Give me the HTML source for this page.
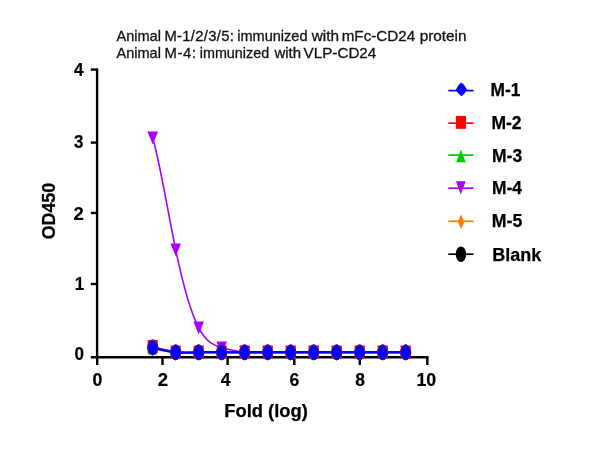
<!DOCTYPE html>
<html><head><meta charset="utf-8"><title>ELISA</title>
<style>
html,body{margin:0;padding:0;background:#fff;}
body{width:600px;height:450px;overflow:hidden;}
svg{display:block;filter:blur(0.5px);}
text{font-family:"Liberation Sans",Arial,sans-serif;fill:#000;}
.b{font-weight:bold;font-size:17.6px;stroke:#000;stroke-width:0.25px;}
.k{font-weight:bold;font-size:17.5px;stroke:#000;stroke-width:0.2px;}
.ln{filter:blur(0.45px);}
.t{font-size:14.8px;fill:#111;stroke:#111;stroke-width:0.3px;}
</style></head><body>
<svg width="600" height="450" viewBox="0 0 600 450">
<rect width="600" height="450" fill="#fff"/>

<text class="t" y="40.7"><tspan x="116.45" textLength="44.51" lengthAdjust="spacingAndGlyphs">Animal</tspan> <tspan x="164.40" textLength="69.47" lengthAdjust="spacing">M-1/2/3/5:</tspan> <tspan x="237.26" textLength="70.22" lengthAdjust="spacingAndGlyphs">immunized</tspan> <tspan x="311.70" textLength="27.36" lengthAdjust="spacingAndGlyphs">with</tspan> <tspan x="341.67" textLength="73.62" lengthAdjust="spacingAndGlyphs">mFc-CD24</tspan> <tspan x="419.67" textLength="46.81" lengthAdjust="spacingAndGlyphs">protein</tspan></text>
<text class="t" y="57.7"><tspan x="116.45" textLength="44.51" lengthAdjust="spacingAndGlyphs">Animal</tspan> <tspan x="164.40" textLength="31.76" lengthAdjust="spacing">M-4:</tspan> <tspan x="199.77" textLength="69.40" lengthAdjust="spacingAndGlyphs">immunized</tspan> <tspan x="274.40" textLength="26.64" lengthAdjust="spacingAndGlyphs">with</tspan> <tspan x="303.64" textLength="72.65" lengthAdjust="spacingAndGlyphs">VLP-CD24</tspan></text>
<g stroke="#000" stroke-width="2.4" fill="none">
<path d="M97.1 68.4V358.4"/>
<path d="M90.8 357.2H428.5"/>
<path d="M90.8 69.6H97.2"/>
<path d="M90.8 142.6H97.2"/>
<path d="M90.8 213.0H97.2"/>
<path d="M90.8 284.0H97.2"/>
<path d="M97.2 357.2V365.0"/>
<path d="M162.5 357.2V365.0"/>
<path d="M227.6 357.2V365.0"/>
<path d="M294.3 357.2V365.0"/>
<path d="M359.8 357.2V365.0"/>
<path d="M427.3 357.2V365.0"/>
</g>
<g><path d="M152.7 347.2C160.4 349.4 168.0 351.6 175.7 352.4C183.4 353.3 191.0 352.7 198.7 352.4C206.4 352.2 214.0 352.4 221.7 352.4C229.4 352.5 237.0 352.5 244.7 352.4C252.4 352.4 260.0 352.4 267.7 352.4C275.4 352.4 283.0 352.4 290.7 352.4C298.4 352.4 306.0 352.4 313.7 352.4C321.4 352.4 329.0 352.4 336.7 352.4C344.4 352.4 352.0 352.4 359.7 352.4C367.4 352.4 375.0 352.4 382.7 352.4C390.4 352.4 398.0 352.4 405.7 352.4" fill="none" stroke="#000000" stroke-width="1.6" class="ln"/>
<ellipse cx="152.7" cy="347.2" rx="5.3" ry="7.8" fill="#000000"/>
<ellipse cx="175.7" cy="352.4" rx="5.3" ry="7.8" fill="#000000"/>
<ellipse cx="198.7" cy="352.4" rx="5.3" ry="7.8" fill="#000000"/>
<ellipse cx="221.7" cy="352.4" rx="5.3" ry="7.8" fill="#000000"/>
<ellipse cx="244.7" cy="352.4" rx="5.3" ry="7.8" fill="#000000"/>
<ellipse cx="267.7" cy="352.4" rx="5.3" ry="7.8" fill="#000000"/>
<ellipse cx="290.7" cy="352.4" rx="5.3" ry="7.8" fill="#000000"/>
<ellipse cx="313.7" cy="352.4" rx="5.3" ry="7.8" fill="#000000"/>
<ellipse cx="336.7" cy="352.4" rx="5.3" ry="7.8" fill="#000000"/>
<ellipse cx="359.7" cy="352.4" rx="5.3" ry="7.8" fill="#000000"/>
<ellipse cx="382.7" cy="352.4" rx="5.3" ry="7.8" fill="#000000"/>
<ellipse cx="405.7" cy="352.4" rx="5.3" ry="7.8" fill="#000000"/>
</g>
<g><path d="M152.7 346.5C160.4 348.8 168.0 351.0 175.7 351.9C183.4 352.7 191.0 352.1 198.7 351.9C206.4 351.6 214.0 351.8 221.7 351.9C229.4 351.9 237.0 351.9 244.7 351.9C252.4 351.9 260.0 351.9 267.7 351.9C275.4 351.9 283.0 351.9 290.7 351.9C298.4 351.9 306.0 351.9 313.7 351.9C321.4 351.9 329.0 351.9 336.7 351.9C344.4 351.9 352.0 351.9 359.7 351.9C367.4 351.9 375.0 351.9 382.7 351.9C390.4 351.9 398.0 351.9 405.7 351.9" fill="none" stroke="#ff8000" stroke-width="1.6" class="ln"/>
<path d="M149.2 346.5L152.7 339.4L156.2 346.5L152.7 353.6Z" fill="#ff8000"/>
<path d="M172.2 351.9L175.7 344.8L179.2 351.9L175.7 359.0Z" fill="#ff8000"/>
<path d="M195.2 351.9L198.7 344.8L202.2 351.9L198.7 359.0Z" fill="#ff8000"/>
<path d="M218.2 351.9L221.7 344.8L225.2 351.9L221.7 359.0Z" fill="#ff8000"/>
<path d="M241.2 351.9L244.7 344.8L248.2 351.9L244.7 359.0Z" fill="#ff8000"/>
<path d="M264.2 351.9L267.7 344.8L271.2 351.9L267.7 359.0Z" fill="#ff8000"/>
<path d="M287.2 351.9L290.7 344.8L294.2 351.9L290.7 359.0Z" fill="#ff8000"/>
<path d="M310.2 351.9L313.7 344.8L317.2 351.9L313.7 359.0Z" fill="#ff8000"/>
<path d="M333.2 351.9L336.7 344.8L340.2 351.9L336.7 359.0Z" fill="#ff8000"/>
<path d="M356.2 351.9L359.7 344.8L363.2 351.9L359.7 359.0Z" fill="#ff8000"/>
<path d="M379.2 351.9L382.7 344.8L386.2 351.9L382.7 359.0Z" fill="#ff8000"/>
<path d="M402.2 351.9L405.7 344.8L409.2 351.9L405.7 359.0Z" fill="#ff8000"/>
</g>
<g><path d="M152.7 137.8C160.4 164.9 168.0 212.6 175.7 249.7C183.4 286.7 191.0 313.2 198.7 327.8C206.4 342.4 214.0 345.3 221.7 347.6C229.4 349.8 237.0 351.5 244.7 352.2C252.4 352.8 260.0 352.4 267.7 352.3C275.4 352.2 283.0 352.3 290.7 352.3C298.4 352.3 306.0 352.3 313.7 352.3C321.4 352.3 329.0 352.3 336.7 352.3C344.4 352.3 352.0 352.3 359.7 352.3C367.4 352.3 375.0 352.3 382.7 352.3C390.4 352.3 398.0 352.3 405.7 352.3" fill="none" stroke="#aa00ff" stroke-width="1.6" class="ln"/>
<path d="M147.4 131.6L158.0 131.6L152.7 144.4Z" fill="#aa00ff"/>
<path d="M170.4 243.5L181.0 243.5L175.7 256.3Z" fill="#aa00ff"/>
<path d="M193.4 321.6L204.0 321.6L198.7 334.4Z" fill="#aa00ff"/>
<path d="M216.4 341.4L227.0 341.4L221.7 354.2Z" fill="#aa00ff"/>
<path d="M239.4 346.0L250.0 346.0L244.7 358.8Z" fill="#aa00ff"/>
<path d="M262.4 346.1L273.0 346.1L267.7 358.9Z" fill="#aa00ff"/>
<path d="M285.4 346.1L296.0 346.1L290.7 358.9Z" fill="#aa00ff"/>
<path d="M308.4 346.1L319.0 346.1L313.7 358.9Z" fill="#aa00ff"/>
<path d="M331.4 346.1L342.0 346.1L336.7 358.9Z" fill="#aa00ff"/>
<path d="M354.4 346.1L365.0 346.1L359.7 358.9Z" fill="#aa00ff"/>
<path d="M377.4 346.1L388.0 346.1L382.7 358.9Z" fill="#aa00ff"/>
<path d="M400.4 346.1L411.0 346.1L405.7 358.9Z" fill="#aa00ff"/>
</g>
<g><path d="M152.7 347.9C160.4 349.8 168.0 351.6 175.7 352.3C183.4 353.0 191.0 352.5 198.7 352.3C206.4 352.1 214.0 352.3 221.7 352.3C229.4 352.3 237.0 352.3 244.7 352.3C252.4 352.3 260.0 352.3 267.7 352.3C275.4 352.3 283.0 352.3 290.7 352.3C298.4 352.3 306.0 352.3 313.7 352.3C321.4 352.3 329.0 352.3 336.7 352.3C344.4 352.3 352.0 352.3 359.7 352.3C367.4 352.3 375.0 352.3 382.7 352.3C390.4 352.3 398.0 352.3 405.7 352.3" fill="none" stroke="#00c800" stroke-width="1.6" class="ln"/>
<path d="M147.7 354.5L152.7 341.5L157.7 354.5Z" fill="#00c800"/>
<path d="M170.7 358.9L175.7 345.9L180.7 358.9Z" fill="#00c800"/>
<path d="M193.7 358.9L198.7 345.9L203.7 358.9Z" fill="#00c800"/>
<path d="M216.7 358.9L221.7 345.9L226.7 358.9Z" fill="#00c800"/>
<path d="M239.7 358.9L244.7 345.9L249.7 358.9Z" fill="#00c800"/>
<path d="M262.7 358.9L267.7 345.9L272.7 358.9Z" fill="#00c800"/>
<path d="M285.7 358.9L290.7 345.9L295.7 358.9Z" fill="#00c800"/>
<path d="M308.7 358.9L313.7 345.9L318.7 358.9Z" fill="#00c800"/>
<path d="M331.7 358.9L336.7 345.9L341.7 358.9Z" fill="#00c800"/>
<path d="M354.7 358.9L359.7 345.9L364.7 358.9Z" fill="#00c800"/>
<path d="M377.7 358.9L382.7 345.9L387.7 358.9Z" fill="#00c800"/>
<path d="M400.7 358.9L405.7 345.9L410.7 358.9Z" fill="#00c800"/>
</g>
<g><path d="M152.7 346.5C160.4 348.8 168.0 351.2 175.7 352.1C183.4 353.0 191.0 352.3 198.7 352.1C206.4 351.9 214.0 352.0 221.7 352.1C229.4 352.1 237.0 352.1 244.7 352.1C252.4 352.1 260.0 352.1 267.7 352.1C275.4 352.1 283.0 352.1 290.7 352.1C298.4 352.1 306.0 352.1 313.7 352.1C321.4 352.1 329.0 352.1 336.7 352.1C344.4 352.1 352.0 352.1 359.7 352.1C367.4 352.1 375.0 352.1 382.7 352.1C390.4 352.1 398.0 352.1 405.7 352.1" fill="none" stroke="#ff0000" stroke-width="1.6" class="ln"/>
<rect x="147.7" y="339.9" width="10.0" height="13.2" fill="#ff0000"/>
<rect x="170.7" y="345.5" width="10.0" height="13.2" fill="#ff0000"/>
<rect x="193.7" y="345.5" width="10.0" height="13.2" fill="#ff0000"/>
<rect x="216.7" y="345.5" width="10.0" height="13.2" fill="#ff0000"/>
<rect x="239.7" y="345.5" width="10.0" height="13.2" fill="#ff0000"/>
<rect x="262.7" y="345.5" width="10.0" height="13.2" fill="#ff0000"/>
<rect x="285.7" y="345.5" width="10.0" height="13.2" fill="#ff0000"/>
<rect x="308.7" y="345.5" width="10.0" height="13.2" fill="#ff0000"/>
<rect x="331.7" y="345.5" width="10.0" height="13.2" fill="#ff0000"/>
<rect x="354.7" y="345.5" width="10.0" height="13.2" fill="#ff0000"/>
<rect x="377.7" y="345.5" width="10.0" height="13.2" fill="#ff0000"/>
<rect x="400.7" y="345.5" width="10.0" height="13.2" fill="#ff0000"/>
</g>
<g><path d="M152.7 347.6C160.4 349.6 168.0 351.6 175.7 352.3C183.4 353.0 191.0 352.5 198.7 352.3C206.4 352.1 214.0 352.2 221.7 352.3C229.4 352.4 237.0 352.3 244.7 352.3C252.4 352.3 260.0 352.3 267.7 352.3C275.4 352.3 283.0 352.3 290.7 352.3C298.4 352.3 306.0 352.3 313.7 352.3C321.4 352.3 329.0 352.3 336.7 352.3C344.4 352.3 352.0 352.3 359.7 352.3C367.4 352.3 375.0 352.3 382.7 352.3C390.4 352.3 398.0 352.3 405.7 352.3" fill="none" stroke="#0000ff" stroke-width="2.4" class="ln"/>
<path d="M147.5 347.6Q148.33 341.17 152.7 340.0Q157.07 341.17 157.9 347.6Q157.07 353.94 152.7 355.2Q148.33 353.94 147.5 347.6Z" fill="#0000ff" stroke="#4a10b0" stroke-width="0.9"/>
<path d="M170.5 352.3Q171.33 345.92 175.7 344.7Q180.07 345.92 180.9 352.3Q180.07 358.68 175.7 359.9Q171.33 358.68 170.5 352.3Z" fill="#0000ff" stroke="#4a10b0" stroke-width="0.9"/>
<path d="M193.5 352.3Q194.33 345.92 198.7 344.7Q203.07 345.92 203.9 352.3Q203.07 358.68 198.7 359.9Q194.33 358.68 193.5 352.3Z" fill="#0000ff" stroke="#4a10b0" stroke-width="0.9"/>
<path d="M216.5 352.3Q217.33 345.92 221.7 344.7Q226.07 345.92 226.9 352.3Q226.07 358.68 221.7 359.9Q217.33 358.68 216.5 352.3Z" fill="#0000ff" stroke="#4a10b0" stroke-width="0.9"/>
<path d="M239.5 352.3Q240.33 345.92 244.7 344.7Q249.07 345.92 249.9 352.3Q249.07 358.68 244.7 359.9Q240.33 358.68 239.5 352.3Z" fill="#0000ff" stroke="#4a10b0" stroke-width="0.9"/>
<path d="M262.5 352.3Q263.33 345.92 267.7 344.7Q272.07 345.92 272.9 352.3Q272.07 358.68 267.7 359.9Q263.33 358.68 262.5 352.3Z" fill="#0000ff" stroke="#4a10b0" stroke-width="0.9"/>
<path d="M285.5 352.3Q286.33 345.92 290.7 344.7Q295.07 345.92 295.9 352.3Q295.07 358.68 290.7 359.9Q286.33 358.68 285.5 352.3Z" fill="#0000ff" stroke="#4a10b0" stroke-width="0.9"/>
<path d="M308.5 352.3Q309.33 345.92 313.7 344.7Q318.07 345.92 318.9 352.3Q318.07 358.68 313.7 359.9Q309.33 358.68 308.5 352.3Z" fill="#0000ff" stroke="#4a10b0" stroke-width="0.9"/>
<path d="M331.5 352.3Q332.33 345.92 336.7 344.7Q341.07 345.92 341.9 352.3Q341.07 358.68 336.7 359.9Q332.33 358.68 331.5 352.3Z" fill="#0000ff" stroke="#4a10b0" stroke-width="0.9"/>
<path d="M354.5 352.3Q355.33 345.92 359.7 344.7Q364.07 345.92 364.9 352.3Q364.07 358.68 359.7 359.9Q355.33 358.68 354.5 352.3Z" fill="#0000ff" stroke="#4a10b0" stroke-width="0.9"/>
<path d="M377.5 352.3Q378.33 345.92 382.7 344.7Q387.07 345.92 387.9 352.3Q387.07 358.68 382.7 359.9Q378.33 358.68 377.5 352.3Z" fill="#0000ff" stroke="#4a10b0" stroke-width="0.9"/>
<path d="M400.5 352.3Q401.33 345.92 405.7 344.7Q410.07 345.92 410.9 352.3Q410.07 358.68 405.7 359.9Q401.33 358.68 400.5 352.3Z" fill="#0000ff" stroke="#4a10b0" stroke-width="0.9"/>
</g>
<text class="k" x="74.06" y="75.5" textLength="9.53" lengthAdjust="spacingAndGlyphs">4</text>
<text class="k" x="74.11" y="147.7" textLength="9.46" lengthAdjust="spacingAndGlyphs">3</text>
<text class="k" x="73.57" y="219.5" textLength="10.31" lengthAdjust="spacingAndGlyphs">2</text>
<text class="k" x="74.83" y="289.5" textLength="9.44" lengthAdjust="spacingAndGlyphs">1</text>
<text class="k" x="74.51" y="359.9" textLength="9.51" lengthAdjust="spacingAndGlyphs">0</text>
<text class="k" x="92.49" y="385.8" textLength="9.85" lengthAdjust="spacingAndGlyphs">0</text>
<text class="k" x="157.67" y="385.8" textLength="10.31" lengthAdjust="spacingAndGlyphs">2</text>
<text class="k" x="220.75" y="385.8" textLength="9.73" lengthAdjust="spacingAndGlyphs">4</text>
<text class="k" x="289.50" y="385.8" textLength="9.79" lengthAdjust="spacingAndGlyphs">6</text>
<text class="k" x="355.30" y="385.8" textLength="9.68" lengthAdjust="spacingAndGlyphs">8</text>
<text class="k" x="416.49" y="385.8" textLength="19.74" lengthAdjust="spacingAndGlyphs">10</text>
<text class="b" x="224.26" y="416.7" textLength="83.66" lengthAdjust="spacingAndGlyphs">Fold (log)</text>
<text class="b" transform="translate(54.9 239.26) rotate(-90)" textLength="56.42" lengthAdjust="spacingAndGlyphs">OD450</text>
<path d="M448.3 90.6H473.5" stroke="#0000ff" stroke-width="1.7" fill="none" class="ln"/>
<path d="M455.9 89.4Q457.77 84.91 461.4 82.6Q465.03 84.91 466.9 89.4Q465.03 93.89 461.4 96.2Q457.77 93.89 455.9 89.4Z" fill="#0000ff"/>
<text class="b" x="490.51" y="96.3" textLength="29.86" lengthAdjust="spacingAndGlyphs">M-1</text>
<path d="M448.3 123.2H473.5" stroke="#ff0000" stroke-width="1.7" fill="none" class="ln"/>
<rect x="455.9" y="115.9" width="10.1" height="12.9" fill="#ff0000"/>
<text class="b" x="491.41" y="129.0" textLength="30.15" lengthAdjust="spacingAndGlyphs">M-2</text>
<path d="M448.3 155.1H473.5" stroke="#00c800" stroke-width="1.7" fill="none" class="ln"/>
<path d="M456.2 162.2L460.95 149.4L465.7 162.2Z" fill="#00c800"/>
<text class="b" x="492.01" y="161.6" textLength="30.15" lengthAdjust="spacingAndGlyphs">M-3</text>
<path d="M448.3 188.2H473.5" stroke="#aa00ff" stroke-width="1.7" fill="none" class="ln"/>
<path d="M455.9 181.3L465.7 181.3L460.80 194.6Z" fill="#aa00ff"/>
<text class="b" x="491.91" y="193.7" textLength="29.95" lengthAdjust="spacingAndGlyphs">M-4</text>
<path d="M448.3 221.3H473.5" stroke="#ff8000" stroke-width="1.7" fill="none" class="ln"/>
<path d="M457.7 221.65L461.10 214.4L464.5 221.65L461.10 228.9Z" fill="#ff8000"/>
<text class="b" x="491.89" y="227.3" textLength="30.47" lengthAdjust="spacingAndGlyphs">M-5</text>
<path d="M448.3 254.2H473.5" stroke="#000000" stroke-width="1.7" fill="none" class="ln"/>
<ellipse cx="460.95" cy="254.20" rx="5.25" ry="7.70" fill="#000000"/>
<text class="b" x="492.18" y="260.5" textLength="49.00" lengthAdjust="spacingAndGlyphs">Blank</text>
</svg></body></html>
